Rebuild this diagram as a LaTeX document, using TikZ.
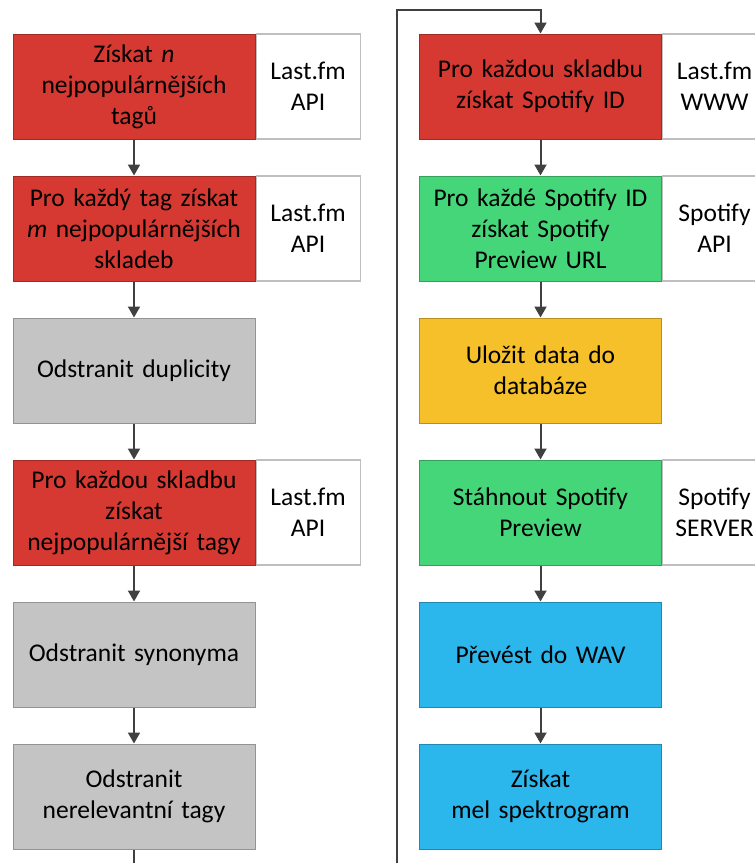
\documentclass[tikz,border=0pt]{standalone}
\usepackage{fontspec}
\setmainfont[WordSpace=0.85]{Carlito}
\usetikzlibrary{positioning,arrows.meta}

\definecolor{krokred}{RGB}{214,57,50}
\definecolor{krokgreen}{RGB}{70,214,122}
\definecolor{krokyellow}{RGB}{245,192,42}
\definecolor{krokblue}{RGB}{43,182,236}
\definecolor{krokgray}{RGB}{196,196,196}
\definecolor{ramgray}{RGB}{191,191,191}
\definecolor{carygray}{RGB}{64,64,64}

\tikzset{
  krok/.style={draw=#1!75!black, fill=#1, line width=1pt, inner sep=0pt,
    minimum width=242pt, minimum height=105pt, text width=236pt, align=center,
    font=\fontsize{25.5}{31}\selectfont},
  zdroj/.style={draw=ramgray, fill=white, line width=1.2pt, inner sep=0pt,
    minimum width=104pt, minimum height=105pt, text width=100pt, align=center,
    font=\fontsize{25.5}{31}\selectfont},
  sipka/.style={draw=carygray, line width=2pt, -{Triangle[length=11pt,width=12pt]}},
  cara/.style={draw=carygray, line width=2pt}
}

\begin{document}
\begin{tikzpicture}[x=1pt, y=1pt]
  \useasboundingbox (0,0) rectangle (755,-863);

  % left column
  \node[krok=krokred] (a1) at (134,-86.5) {Získat \textit{n}\\nejpopulárnějších\\tagů};
  \node[krok=krokred, below=36pt of a1] (a2) {Pro každý tag získat\\\textit{m} nejpopulárnějších\\skladeb};
  \node[krok=krokgray, below=36pt of a2] (a3) {Odstranit duplicity};
  \node[krok=krokred, below=36pt of a3] (a4) {Pro každou skladbu\\získat\\nejpopulárnější tagy};
  \node[krok=krokgray, below=36pt of a4] (a5) {Odstranit synonyma};
  \node[krok=krokgray, below=36pt of a5] (a6) {Odstranit\\nerelevantní tagy};

  \node[zdroj, right=0pt of a1] (z1) {Last.fm\\API};
  \node[zdroj, right=0pt of a2] (z2) {Last.fm\\API};
  \node[zdroj, right=0pt of a4] (z4) {Last.fm\\API};

  % right column
  \node[krok=krokred] (b1) at (540.5,-86.5) {Pro každou skladbu\\získat Spotify ID};
  \node[krok=krokgreen, below=36pt of b1] (b2) {Pro každé Spotify ID\\získat Spotify\\Preview URL};
  \node[krok=krokyellow, below=36pt of b2] (b3) {Uložit data do\\databáze};
  \node[krok=krokgreen, below=36pt of b3] (b4) {Stáhnout Spotify\\Preview};
  \node[krok=krokblue, below=36pt of b4] (b5) {Převést do WAV};
  \node[krok=krokblue, below=36pt of b5] (b6) {Získat\\mel spektrogram};

  \node[zdroj, right=0pt of b1] (y1) {Last.fm\\WWW};
  \node[zdroj, right=0pt of b2] (y2) {Spotify\\API};
  \node[zdroj, right=0pt of b4] (y4) {Spotify\\SERVER};

  % arrows
  \foreach \i/\j in {1/2,2/3,3/4,4/5,5/6} {
    \draw[sipka] (a\i) -- (a\j);
    \draw[sipka] (b\i) -- (b\j);
  }

  % jump from the bottom of the left column to the top of the right one
  \coordinate (dolL) at (134,-863);
  \coordinate (dolR) at (397,-863);
  \coordinate (horR) at (397,-10);
  \draw[cara] (a6) -- (dolL);
  \draw[sipka] (dolR) -- (horR) -| (b1);
\end{tikzpicture}
\end{document}
